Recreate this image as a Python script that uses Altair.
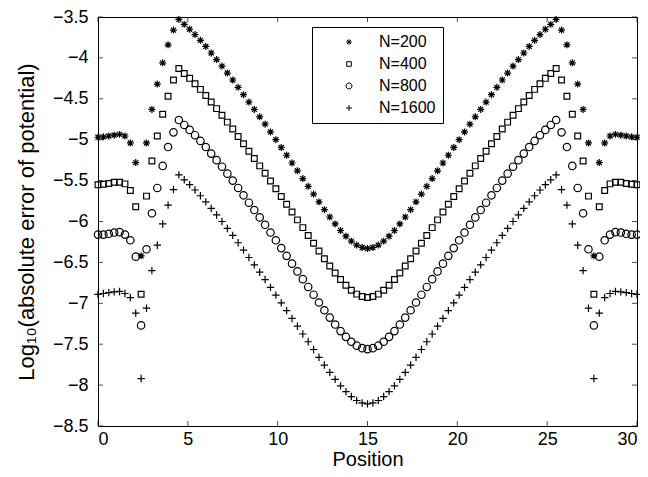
import altair as alt
import pandas as pd

# ---------------- data ----------------
POSITIONS = [round(i * 0.3, 1) for i in range(101)]   # sample grid 0, 0.3, ..., 30
SERIES = ["N=200", "N=400", "N=800", "N=1600"]

N200 = [
    -4.97, -4.965, -4.955, -4.945, -4.935, -4.955, -5.04, -5.28, -6.42, -5.04,
    -4.63, -4.32, -4.06, -3.84, -3.66,
    -3.53, -3.59, -3.65, -3.715, -3.785, -3.86, -3.94, -4.02, -4.10, -4.185,
    -4.27, -4.36, -4.45, -4.54, -4.63, -4.72, -4.81, -4.905, -5.00, -5.095,
    -5.19, -5.285, -5.38, -5.475, -5.57, -5.665, -5.76, -5.855, -5.945, -6.03,
    -6.11, -6.18, -6.24, -6.288, -6.318, -6.33,
    -6.318, -6.288, -6.24, -6.18, -6.11, -6.03, -5.945, -5.855, -5.76, -5.665,
    -5.57, -5.475, -5.38, -5.285, -5.19, -5.095, -5.00, -4.905, -4.81, -4.72,
    -4.63, -4.54, -4.45, -4.36, -4.27, -4.185, -4.10, -4.02, -3.94, -3.86,
    -3.785, -3.715, -3.65, -3.59, -3.53,
    -3.66, -3.84, -4.06, -4.32, -4.63, -5.04, -6.42, -5.28, -5.04, -4.955,
    -4.935, -4.945, -4.955, -4.965, -4.97,
]

N400 = [
    -5.55, -5.545, -5.535, -5.52, -5.52, -5.54, -5.62, -5.82, -6.89, -5.69,
    -5.26, -4.955, -4.69, -4.47, -4.27,
    -4.13, -4.19, -4.25, -4.315, -4.385, -4.46, -4.54, -4.62, -4.70, -4.785,
    -4.87, -4.96, -5.05, -5.14, -5.23, -5.32, -5.41, -5.505, -5.60, -5.695,
    -5.79, -5.885, -5.98, -6.075, -6.17, -6.265, -6.36, -6.455, -6.545, -6.63,
    -6.71, -6.78, -6.84, -6.888, -6.918, -6.93,
    -6.918, -6.888, -6.84, -6.78, -6.71, -6.63, -6.545, -6.455, -6.36, -6.265,
    -6.17, -6.075, -5.98, -5.885, -5.79, -5.695, -5.60, -5.505, -5.41, -5.32,
    -5.23, -5.14, -5.05, -4.96, -4.87, -4.785, -4.70, -4.62, -4.54, -4.46,
    -4.385, -4.315, -4.25, -4.19, -4.13,
    -4.27, -4.47, -4.69, -4.955, -5.26, -5.69, -6.89, -5.82, -5.62, -5.54,
    -5.52, -5.52, -5.535, -5.545, -5.55,
]

N800 = [
    -6.16, -6.16, -6.15, -6.135, -6.13, -6.16, -6.23, -6.43, -7.27, -6.34,
    -5.90, -5.59, -5.32, -5.09, -4.91,
    -4.76, -4.82, -4.88, -4.945, -5.015, -5.09, -5.17, -5.25, -5.33, -5.415,
    -5.50, -5.59, -5.68, -5.77, -5.86, -5.95, -6.04, -6.135, -6.23, -6.325,
    -6.42, -6.515, -6.61, -6.705, -6.80, -6.895, -6.99, -7.085, -7.175, -7.26,
    -7.34, -7.41, -7.47, -7.518, -7.548, -7.56,
    -7.548, -7.518, -7.47, -7.41, -7.34, -7.26, -7.175, -7.085, -6.99, -6.895,
    -6.80, -6.705, -6.61, -6.515, -6.42, -6.325, -6.23, -6.135, -6.04, -5.95,
    -5.86, -5.77, -5.68, -5.59, -5.50, -5.415, -5.33, -5.25, -5.17, -5.09,
    -5.015, -4.945, -4.88, -4.82, -4.76,
    -4.91, -5.09, -5.32, -5.59, -5.90, -6.34, -7.27, -6.43, -6.23, -6.16,
    -6.13, -6.135, -6.15, -6.16, -6.16,
]

N1600 = [
    -6.89, -6.88, -6.87, -6.86, -6.855, -6.88, -6.93, -7.12, -7.92, -7.06,
    -6.60, -6.29, -6.03, -5.80, -5.61,
    -5.43, -5.49, -5.55, -5.615, -5.685, -5.76, -5.84, -5.92, -6.00, -6.085,
    -6.17, -6.26, -6.35, -6.44, -6.53, -6.62, -6.71, -6.805, -6.90, -6.995,
    -7.09, -7.185, -7.28, -7.375, -7.47, -7.565, -7.66, -7.755, -7.845, -7.93,
    -8.01, -8.08, -8.14, -8.188, -8.218, -8.23,
    -8.218, -8.188, -8.14, -8.08, -8.01, -7.93, -7.845, -7.755, -7.66, -7.565,
    -7.47, -7.375, -7.28, -7.185, -7.09, -6.995, -6.90, -6.805, -6.71, -6.62,
    -6.53, -6.44, -6.35, -6.26, -6.17, -6.085, -6.00, -5.92, -5.84, -5.76,
    -5.685, -5.615, -5.55, -5.49, -5.43,
    -5.61, -5.80, -6.03, -6.29, -6.60, -7.06, -7.92, -7.12, -6.93, -6.88,
    -6.855, -6.86, -6.87, -6.88, -6.89,
]

X_TICKS = [0, 5, 10, 15, 20, 25, 30]
Y_TICKS = [-8.5, -8, -7.5, -7, -6.5, -6, -5.5, -5, -4.5, -4, -3.5]

# ---------------- build tables ----------------
rows = []
for name, vals in zip(SERIES, [N200, N400, N800, N1600]):
    for x, v in zip(POSITIONS, vals):
        rows.append({"Position": x, "value": v, "series": name})
df = pd.DataFrame(rows)

xt = pd.DataFrame({"Position": X_TICKS})
yt = pd.DataFrame({"value": Y_TICKS})

FONT = "Liberation Sans"

# marker glyphs (unit box -1..1)
STAR = "M0,-0.8L0,0.8M-0.8,0L0.8,0M-0.57,-0.57L0.57,0.57M-0.57,0.57L0.57,-0.57"
SQUARE = "M-0.66,-0.66L0.66,-0.66L0.66,0.66L-0.66,0.66Z"
CIRCLE = "M0.85,0A0.85,0.85,0,1,1,-0.85,0A0.85,0.85,0,1,1,0.85,0Z"
PLUS = "M0,-0.85L0,0.85M-0.85,0L0.85,0"

xscale = alt.Scale(domain=[0, 30], nice=False, zero=False)
yscale = alt.Scale(domain=[-8.5, -3.5], nice=False, zero=False)

AX = alt.Axis(
    values=X_TICKS, ticks=False, domain=False, grid=False,
    labelPadding=4, labelFontSize=18, labelFont=FONT, labelColor="black",
    title="Position", titleFontSize=20, titleFont=FONT, titleColor="black",
    titleFontWeight="normal", titlePadding=1,
)
AY = alt.Axis(
    values=Y_TICKS, format="~g", ticks=False, domain=False, grid=False,
    labelPadding=10, labelFontSize=18, labelFont=FONT, labelColor="black",
    title="Log\u2081\u2080(absolute error of potential)", titleFontSize=22,
    titleFont=FONT, titleColor="black", titleFontWeight="normal",
    titlePadding=14,
)

points = alt.Chart(df).mark_point(
    filled=False, color="black", strokeWidth=1.2, opacity=1, size=76
).encode(
    x=alt.X("Position:Q", scale=xscale, axis=AX),
    y=alt.Y("value:Q", scale=yscale, axis=AY),
    shape=alt.Shape(
        "series:N",
        scale=alt.Scale(domain=SERIES, range=[STAR, SQUARE, CIRCLE, PLUS]),
        legend=alt.Legend(
            title=None, orient="none", legendX=214, legendY=10,
            strokeColor="black", fillColor="white", padding=7,
            symbolOffset=22, labelOffset=22, rowPadding=6,
            symbolSize=49, symbolStrokeColor="black", symbolStrokeWidth=1,
            symbolFillColor="transparent",
            labelFont=FONT, labelFontSize=16, labelColor="black",
        ),
    ),
)

tick_style = dict(color="black", thickness=1, size=5)

bottom_ticks = alt.Chart(xt).mark_tick(orient="vertical", yOffset=-2.5, **tick_style).encode(
    x=alt.X("Position:Q", scale=xscale, axis=AX),
    y=alt.YDatum(-8.5, scale=yscale, axis=AY),
)
top_ticks = alt.Chart(xt).mark_tick(orient="vertical", yOffset=2.5, **tick_style).encode(
    x=alt.X("Position:Q", scale=xscale, axis=AX),
    y=alt.YDatum(-3.5, scale=yscale, axis=AY),
)
left_ticks = alt.Chart(yt).mark_tick(orient="horizontal", xOffset=2.5, **tick_style).encode(
    y=alt.Y("value:Q", scale=yscale, axis=AY),
    x=alt.XDatum(0, scale=xscale, axis=AX),
)
right_ticks = alt.Chart(yt).mark_tick(orient="horizontal", xOffset=-2.5, **tick_style).encode(
    y=alt.Y("value:Q", scale=yscale, axis=AY),
    x=alt.XDatum(30, scale=xscale, axis=AX),
)

chart = alt.layer(points, bottom_ticks, top_ticks, left_ticks, right_ticks).properties(
    width=539, height=409,
    autosize=alt.AutoSizeParams(type="none"),
    padding={"left": 90, "top": 9, "right": 3, "bottom": 45},
    background="white",
).configure_view(stroke="black", strokeWidth=1)

chart.save("out.html", embed_options={"renderer": "svg", "actions": False})
